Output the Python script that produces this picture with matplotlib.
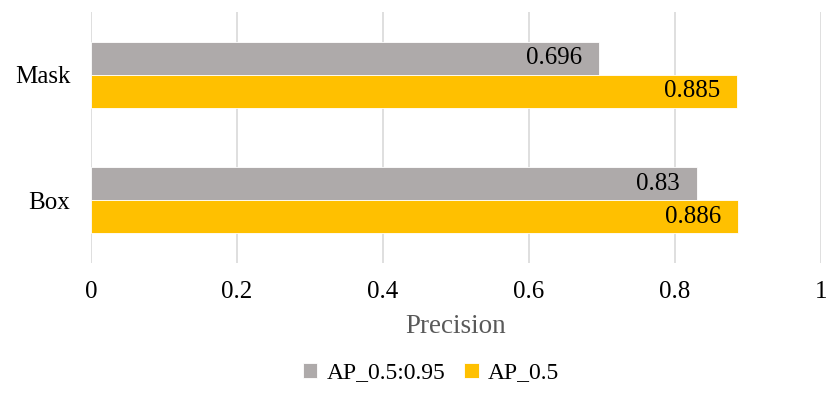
import numpy as np
from matplotlib import pyplot as plt

categories = ["Box", "Mask"]
ap_50_95 = [0.83, 0.696]
ap_50 = [0.886, 0.885]
series_names = ["AP_0.5:0.95", "AP_0.5"]
colors = ["#AEAAAA", "#FFC000"]
xticks = [0, 0.2, 0.4, 0.6, 0.8, 1]
xtick_labels = ["0", "0.2", "0.4", "0.6", "0.8", "1"]

plt.rcParams['font.family'] = ['Liberation Serif', 'DejaVu Serif']

fig = plt.figure(figsize=(8.26, 4.18), dpi=100)
ax = fig.add_axes([91/826, 1 - 263/418, 730/826, 251/418])

y = np.arange(len(categories))
h = 0.262

b1 = ax.barh(y + h/2, ap_50_95, height=h, color=colors[0], edgecolor="white",
             linewidth=0.6, label=series_names[0], zorder=3)
b2 = ax.barh(y - h/2, ap_50, height=h, color=colors[1], edgecolor="white",
             linewidth=0.6, label=series_names[1], zorder=3)

for bars, vals in [(b1, ap_50_95), (b2, ap_50)]:
    for bar, v in zip(bars, vals):
        ax.annotate(f"{v:g}", (v, bar.get_y() + bar.get_height()/2),
                    xytext=(-12, 0), textcoords="offset points",
                    ha="right", va="center", fontsize=18, color="black", zorder=4)

ax.set_xlim(0, 1)
ax.set_ylim(-0.5, 1.5)
ax.set_xticks(xticks)
ax.set_xticklabels(xtick_labels)
ax.set_yticks(y)
ax.set_yticklabels(categories)
ax.tick_params(axis="both", length=0, labelsize=18, colors="black")
ax.tick_params(axis="x", pad=13)
ax.tick_params(axis="y", pad=15)
ax.grid(axis="x", color="#D9D9D9", linewidth=1.2, zorder=0)
for s in ax.spines.values():
    s.set_visible(False)

ax.set_xlabel("Precision", fontsize=19.5, color="#595959", labelpad=8)

fig.legend(handles=[b1, b2], labels=series_names, loc="center",
           bbox_to_anchor=(0.522, 1 - 373/418), ncol=2, frameon=False,
           fontsize=17, handlelength=0.6, handleheight=0.6,
           handletextpad=0.4, columnspacing=0.8)

plt.savefig("out.png", dpi=100)
